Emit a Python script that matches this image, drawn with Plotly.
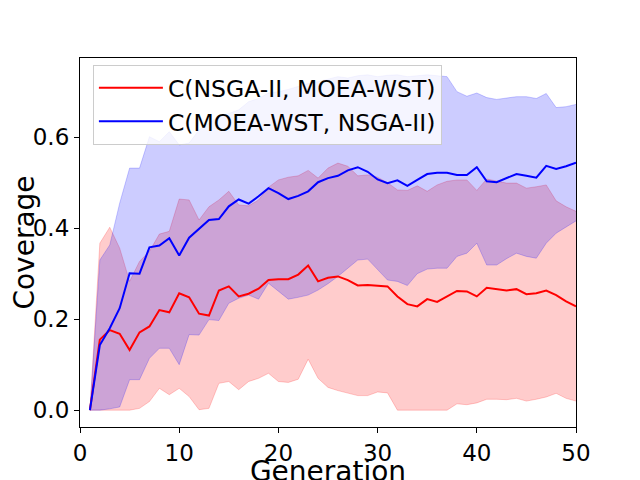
import plotly.graph_objects as go

generations = list(range(1, 51))

red_mean = [0.0, 0.155, 0.176, 0.168, 0.132, 0.171, 0.184, 0.220, 0.215, 0.257,
            0.248, 0.212, 0.208, 0.263, 0.272, 0.250, 0.256, 0.267, 0.286, 0.288,
            0.288, 0.298, 0.318, 0.283, 0.291, 0.294, 0.286, 0.274, 0.275, 0.274,
            0.272, 0.250, 0.233, 0.228, 0.244, 0.238, 0.250, 0.262, 0.261, 0.250,
            0.269, 0.266, 0.263, 0.266, 0.255, 0.257, 0.263, 0.253, 0.239, 0.228]
red_upper = [0.0, 0.367, 0.402, 0.356, 0.283, 0.327, 0.349, 0.387, 0.393, 0.464,
             0.462, 0.418, 0.447, 0.462, 0.481, 0.451, 0.449, 0.462, 0.490, 0.506,
             0.512, 0.515, 0.527, 0.510, 0.532, 0.543, 0.536, 0.515, 0.517, 0.512,
             0.500, 0.484, 0.483, 0.493, 0.481, 0.495, 0.503, 0.506, 0.506, 0.483,
             0.508, 0.503, 0.499, 0.499, 0.488, 0.491, 0.495, 0.460, 0.447, 0.437]
red_lower = [0.0, 0.0, 0.0, 0.0, 0.0, 0.004, 0.019, 0.048, 0.034, 0.048,
             0.030, 0.001, 0.004, 0.059, 0.063, 0.045, 0.063, 0.070, 0.081, 0.063,
             0.061, 0.068, 0.112, 0.070, 0.050, 0.043, 0.038, 0.032, 0.032, 0.040,
             0.038, 0.0, 0.0, 0.0, 0.0, 0.0, 0.0, 0.014, 0.012, 0.016,
             0.024, 0.024, 0.023, 0.026, 0.020, 0.024, 0.029, 0.037, 0.026, 0.020]

blue_mean = [0.0, 0.143, 0.180, 0.224, 0.301, 0.300, 0.358, 0.362, 0.378, 0.340,
             0.379, 0.398, 0.418, 0.420, 0.448, 0.463, 0.454, 0.470, 0.488, 0.477,
             0.464, 0.471, 0.481, 0.501, 0.510, 0.515, 0.527, 0.534, 0.524, 0.507,
             0.499, 0.505, 0.493, 0.506, 0.519, 0.522, 0.522, 0.517, 0.517, 0.534,
             0.503, 0.501, 0.510, 0.519, 0.515, 0.511, 0.537, 0.530, 0.536, 0.544]
blue_upper = [0.0, 0.330, 0.363, 0.455, 0.532, 0.532, 0.601, 0.590, 0.612, 0.583,
              0.587, 0.616, 0.631, 0.645, 0.652, 0.660, 0.678, 0.685, 0.697, 0.700,
              0.705, 0.712, 0.718, 0.722, 0.728, 0.733, 0.730, 0.735, 0.737, 0.733,
              0.736, 0.737, 0.733, 0.735, 0.737, 0.735, 0.733, 0.700, 0.690, 0.697,
              0.687, 0.683, 0.686, 0.689, 0.689, 0.685, 0.696, 0.665, 0.667, 0.672]
blue_lower = [0.0, 0.0, 0.003, 0.007, 0.067, 0.067, 0.114, 0.136, 0.136, 0.100,
              0.166, 0.165, 0.199, 0.197, 0.235, 0.246, 0.253, 0.244, 0.279, 0.261,
              0.244, 0.248, 0.253, 0.264, 0.278, 0.294, 0.312, 0.330, 0.332, 0.308,
              0.286, 0.283, 0.274, 0.300, 0.310, 0.312, 0.312, 0.338, 0.345, 0.367,
              0.319, 0.319, 0.333, 0.345, 0.338, 0.334, 0.367, 0.389, 0.403, 0.416]

x_ticks = [0, 10, 20, 30, 40, 50]
y_ticks = [0.0, 0.2, 0.4, 0.6]

FONT = "DejaVu Sans"
TICK_SIZE = 23
TITLE_SIZE = 28
LEGEND_SIZE = 23.5

fig = go.Figure()

def band(lower, upper, rgb):
    fill = "rgba(%d,%d,%d,0.2)" % rgb
    fig.add_trace(go.Scatter(x=generations, y=lower, mode="lines",
                             line=dict(color=fill, width=1), showlegend=False,
                             hoverinfo="skip"))
    fig.add_trace(go.Scatter(x=generations, y=upper, mode="lines", fill="tonexty",
                             fillcolor=fill, line=dict(color=fill, width=1),
                             showlegend=False, hoverinfo="skip"))

band(red_lower, red_upper, (255, 0, 0))
band(blue_lower, blue_upper, (0, 0, 255))

fig.add_trace(go.Scatter(x=generations, y=red_mean, mode="lines",
                         line=dict(color="red", width=2),
                         name="C(NSGA-II, MOEA-WST)"))
fig.add_trace(go.Scatter(x=generations, y=blue_mean, mode="lines",
                         line=dict(color="blue", width=2),
                         name="C(MOEA-WST, NSGA-II)"))

axis_common = dict(showline=True, mirror=True, linecolor="black", linewidth=1.2,
                   ticks="outside", ticklen=5, tickwidth=1.2, tickcolor="black",
                   showgrid=False, zeroline=False, automargin=False,
                   tickfont=dict(family=FONT, size=TICK_SIZE, color="black"))

fig.update_xaxes(range=[0, 50], tickvals=x_ticks, ticktext=[str(v) for v in x_ticks],
                 title=dict(text="Generation",
                            font=dict(family=FONT, size=TITLE_SIZE, color="black"),
                            standoff=2),
                 **axis_common)
fig.update_yaxes(range=[-0.037, 0.774], tickvals=y_ticks,
                 ticktext=["%.1f" % v for v in y_ticks],
                 title=dict(text="Coverage",
                            font=dict(family=FONT, size=TITLE_SIZE, color="black"),
                            standoff=8),
                 **axis_common)

fig.update_layout(
    width=640, height=480,
    margin=dict(l=72, r=72, t=50, b=61),
    paper_bgcolor="white", plot_bgcolor="white",
    font=dict(family=FONT, size=TICK_SIZE, color="black"),
    legend=dict(x=0.026, y=0.981, xanchor="left", yanchor="top",
                traceorder="normal", itemwidth=64,
                bgcolor="rgba(255,255,255,0.8)", bordercolor="#cccccc", borderwidth=1,
                font=dict(family=FONT, size=LEGEND_SIZE, color="black"), tracegroupgap=0),
    showlegend=True,
)

fig.write_html("out.html")
